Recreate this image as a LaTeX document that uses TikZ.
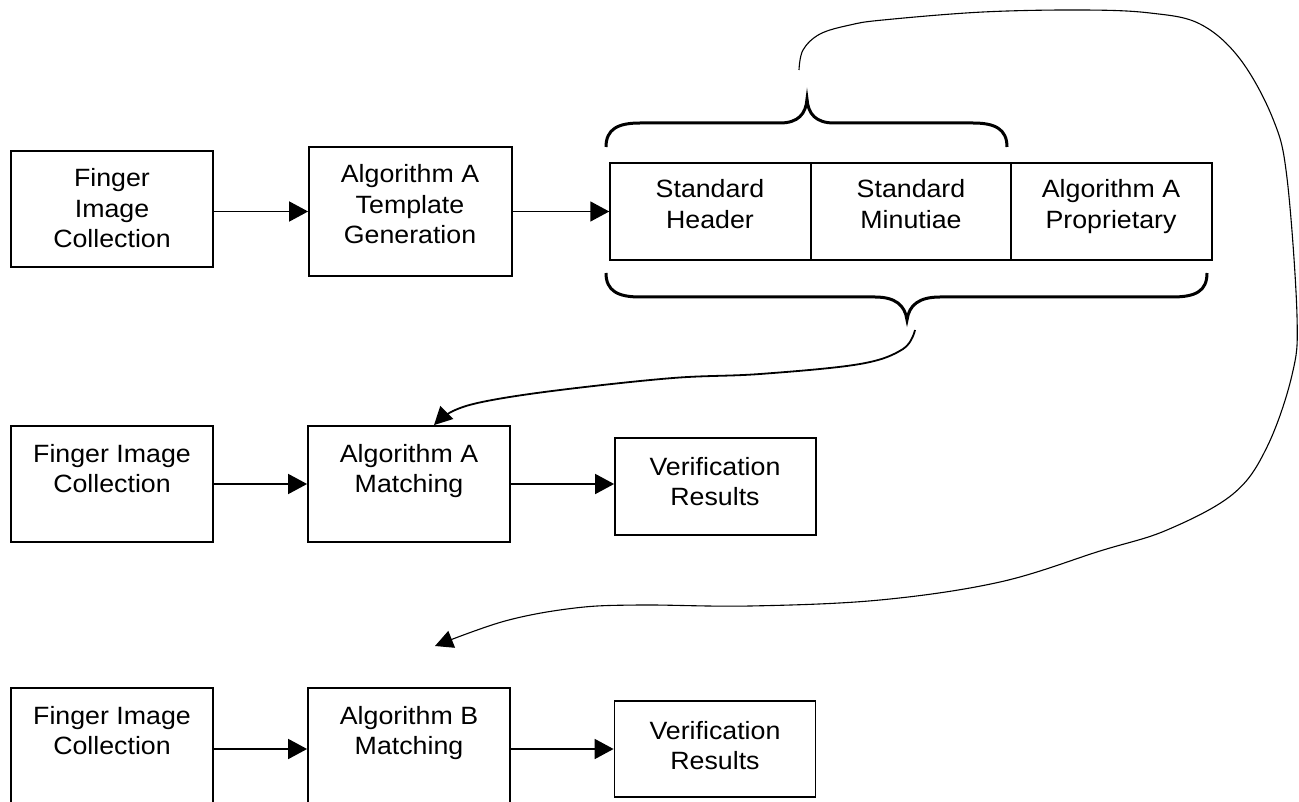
\documentclass[tikz,border=0pt]{standalone}
\usepackage{fontspec}
\setmainfont{Liberation Sans}[FakeStretch=1.07]
\usetikzlibrary{arrows.meta}
\newcommand\mlines[1]{\begin{tabular}[t]{@{}c@{}}#1\end{tabular}}
\begin{document}
\begin{tikzpicture}[x=1pt,y=-1pt,
  box/.style={draw, line width=1.8pt, minimum width=202pt, minimum height=116pt, inner sep=0pt},
  cell/.style={draw, line width=1.5pt, minimum width=201pt, minimum height=97pt, inner sep=0pt},
  vbox/.style={draw, line width=1.8pt, minimum width=201pt, minimum height=97pt, inner sep=0pt},
  txt/.style={anchor=base, inner sep=0pt, font=\fontsize{25}{30.5}\selectfont},
  arr/.style={line width=1.8pt, -{Triangle[length=19pt,width=20pt]}},
  brace/.style={line width=3pt},
  curvea/.style={line width=1.8pt, -{Triangle[length=18pt,width=18pt]}},
  curveb/.style={line width=1.1pt, -{Triangle[length=18pt,width=18pt]}}]
\useasboundingbox (0,0) rectangle (1299,802);
\fill[white] (0,0) rectangle (1299,802);

% row 1
\node[box] (b1) at (112,209) {};
\node[box, minimum width=203pt, minimum height=129pt] (b2) at (410.5,211.5) {};
\node[cell] (h1) at (710.5,211.5) {};
\node[cell, minimum width=200pt] (h2) at (911,211.5) {};
\node[cell] (h3) at (1111.5,211.5) {};
\node[txt] (t1) at (112,187) {\mlines{Finger\\Image\\Collection}};
\node[txt] (t2) at (410,183) {\mlines{Algorithm A\\Template\\Generation}};
\node[txt] (th1) at (710,198) {\mlines{Standard\\Header}};
\node[txt] (th2) at (911,198) {\mlines{Standard\\Minutiae}};
\node[txt] (th3) at (1111,198) {\mlines{Algorithm A\\Proprietary}};
\draw[arr] (b1.east |- b2.west) -- (b2.west);
\draw[arr] (b2.east) -- (h1.west);

% braces
\draw[brace] (606,147) .. controls (606,129) and (618,123) .. (640,123) -- (780,123)
  .. controls (798,123) and (806,114) .. (807,99)
  .. controls (808,114) and (816,123) .. (834,123) -- (973,123)
  .. controls (995,123) and (1007,129) .. (1007,147);
\draw[brace] (606,273) .. controls (606,291) and (618,297) .. (640,297) -- (875,297)
  .. controls (895,297) and (905,305) .. (907,320)
  .. controls (909,305) and (919,297) .. (940,297) -- (1172,297)
  .. controls (1196,297) and (1207,291) .. (1207,273);

% row 2
\node[box] (b5) at (112,484) {};
\node[box] (b6) at (409,484) {};
\node[vbox] (v1) at (715.5,486.5) {};
\node[txt] (t5) at (112,462) {\mlines{Finger Image\\Collection}};
\node[txt] (t6) at (409,462) {\mlines{Algorithm A\\Matching}};
\node[txt] (tv1) at (715,475) {\mlines{Verification\\Results}};
\draw[arr] (b5.east) -- (b6.west);
\draw[arr] (b6.east) -- (v1.west |- b6.east);

% row 3
\node[box] (b7) at (112,746) {};
\node[box] (b8) at (409,746) {};
\node[vbox, minimum height=96pt] (v2) at (715,749) {};
\node[txt] (t7) at (112,724) {\mlines{Finger Image\\Collection}};
\node[txt] (t8) at (409,724) {\mlines{Algorithm B\\Matching}};
\node[txt] (tv2) at (715,739) {\mlines{Verification\\Results}};
\draw[arr] (b7.east |- v2.west) -- (b8.west |- v2.west);
\draw[arr] (b8.east |- v2.west) -- (v2.west);

% curved connectors
\coordinate (c1s) at (915,330);
\coordinate (c1e) at ([xshift=25pt]b6.north);
\coordinate (c2s) at (799,70);
\coordinate (c2e) at (435,646);
\draw[curvea] plot[smooth, tension=0.6] coordinates {(c1s) (903,349) (860,364) (760,374) (673,378) (560,390) (487,401) (453,411) (c1e)};
\draw[curveb] plot[smooth, tension=0.6] coordinates {(c2s) (803,50) (820,34) (850,25) (883,20) (983,12) (1083,10) (1150,13) (1200,24) (1240,59) (1273,119) (1287,178) (1297,316) (1292,375) (1267,447) (1233,494) (1167,530) (1100,551) (1000,582) (880,600) (750,606) (640,605) (575,608) (505,621) (c2e)};
\end{tikzpicture}
\end{document}
